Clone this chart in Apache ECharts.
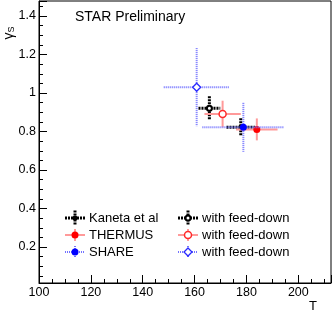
<!DOCTYPE html>
<html><head><meta charset="utf-8">
<script src="https://cdn.jsdelivr.net/npm/echarts@6/dist/echarts.min.js"></script>
<style>html,body{margin:0;padding:0;background:#fff}#c{width:333px;height:316px}</style>
</head><body><div id="c"></div><script>
// ---- data ----
const seriesNames = ['Kaneta et al', 'THERMUS', 'SHARE', 'with feed-down', 'with feed-down', 'with feed-down'];
const temperature = [177.8, 184.0, 178.8, 165.7, 170.8, 160.8];
const gammaS = [0.822, 0.811, 0.822, 0.921, 0.891, 1.030];
const temperatureErr = [5.5, 8.0, 15.8, 4.2, 7.0, 12.7];
const gammaSErr = [0.047, 0.057, 0.127, 0.062, 0.069, 0.203];
const xTickValues = [100, 120, 140, 160, 180, 200];
const yTickValues = [0.2, 0.4, 0.6, 0.8, 1, 1.2, 1.4];

// ---- styles ----
const FONT = 'Liberation Sans, Arial, Helvetica, sans-serif';
const lineStyles = {
  black: { stroke: '#000', lineWidth: 3, lineDash: [2, 1] },
  red: { stroke: '#ff9a9a', lineWidth: 2 },
  blue: { stroke: '#7373ff', lineWidth: 2, lineDash: [1, 1] }
};
const seriesStyle = [
  { line: 'black', marker: 'dot', color: '#000', r: 2.5 },
  { line: 'red', marker: 'dot', color: '#ff0000', r: 3.5 },
  { line: 'blue', marker: 'dot', color: '#0000ff', r: 3.5 },
  { line: 'black', marker: 'ring', color: '#000', r: 2.5, lw: 2 },
  { line: 'red', marker: 'ring', color: '#ff2a2a', r: 3.5, lw: 1.5 },
  { line: 'blue', marker: 'diamond', color: '#2a2aff', r: 4, lw: 1.3 }
];
const drawOrder = [3, 4, 5, 0, 1, 2];

function markerEl(st, cx, cy) {
  if (st.marker === 'dot') {
    return { type: 'circle', shape: { cx: cx, cy: cy, r: st.r }, style: { fill: st.color } };
  }
  if (st.marker === 'ring') {
    return { type: 'circle', shape: { cx: cx, cy: cy, r: st.r }, style: { fill: '#fff', stroke: st.color, lineWidth: st.lw } };
  }
  return { type: 'polygon', shape: { points: [[cx, cy - st.r], [cx + st.r, cy], [cx, cy + st.r], [cx - st.r, cy]] },
    style: { fill: '#fff', stroke: st.color, lineWidth: st.lw } };
}
function crossEls(st, cx, cy, xl, xr, yt, yb) {
  const ls = lineStyles[st.line];
  return [
    { type: 'line', shape: { x1: xl, y1: cy, x2: xr, y2: cy }, style: Object.assign({}, ls) },
    { type: 'line', shape: { x1: cx, y1: yt, x2: cx, y2: yb }, style: Object.assign({}, ls) },
    markerEl(st, cx, cy)
  ];
}

const series = drawOrder.map(function (i) {
  const st = seriesStyle[i];
  return {
    type: 'custom',
    name: seriesNames[i],
    coordinateSystem: 'cartesian2d',
    encode: { x: 0, y: 1 },
    data: [[temperature[i], gammaS[i], temperatureErr[i], gammaSErr[i]]],
    renderItem: function (params, api) {
      const x = api.value(0), y = api.value(1), ex = api.value(2), ey = api.value(3);
      const c = api.coord([x, y]);
      const l = api.coord([x - ex, y]), r = api.coord([x + ex, y]);
      const t = api.coord([x, y + ey]), b = api.coord([x, y - ey]);
      return { type: 'group', children: crossEls(st, c[0], c[1], l[0], r[0], t[1], b[1]) };
    }
  };
});

// legend (drawn as graphics)
const legendPos = [
  { i: 0, x: 75, y: 218, v: 7.5 }, { i: 1, x: 75, y: 235, v: 6 }, { i: 2, x: 75, y: 252, v: 6 },
  { i: 3, x: 188, y: 218, v: 7.5 }, { i: 4, x: 188, y: 235, v: 6 }, { i: 5, x: 188, y: 252, v: 6 }
];
const graphics = [];
legendPos.forEach(function (p) {
  const st = seriesStyle[p.i];
  graphics.push({ type: 'group', children: crossEls(st, p.x, p.y, p.x - 10, p.x + 10, p.y - p.v, p.y + p.v) });
  graphics.push({ type: 'text', x: p.x + 14, y: p.y, style: { text: seriesNames[p.i], fontSize: 13, fontFamily: FONT, fill: '#000', verticalAlign: 'middle', align: 'left' } });
});
graphics.push({ type: 'text', x: 75, y: 17, style: { text: 'STAR Preliminary', fontSize: 14, fontFamily: FONT, fill: '#000', verticalAlign: 'middle' } });
graphics.push({ type: 'text', x: 313, y: 306, style: { text: 'T', fontSize: 13, fontFamily: FONT, fill: '#000', align: 'center', verticalAlign: 'middle' } });
graphics.push({ type: 'text', x: 9, y: 33, rotation: Math.PI / 2,
  style: { text: '{g|γ}{s|S}', fontFamily: FONT, fill: '#000', align: 'center', verticalAlign: 'middle',
    rich: { g: { fontSize: 14, fontFamily: FONT }, s: { fontSize: 9, fontFamily: FONT, verticalAlign: 'bottom', padding: [5, 0, 0, 0] } } } });

const axisCommon = {
  type: 'value',
  axisLine: { show: true, onZero: false, lineStyle: { color: '#000', width: 1 } },
  axisTick: { show: true, inside: true, length: 8, lineStyle: { color: '#000' } },
  minorTick: { show: true, splitNumber: 4, length: 4, lineStyle: { color: '#000' } },
  splitLine: { show: false },
  minorSplitLine: { show: false }
};

const option = {
  animation: false,
  backgroundColor: '#fff',
  grid: { left: 39, right: 2, top: 1, bottom: 33, show: true, borderColor: '#000', borderWidth: 1, backgroundColor: 'transparent' },
  xAxis: Object.assign({}, axisCommon, {
    min: 100, max: 212.6, interval: 20,
    axisLabel: { color: '#000', fontSize: 12.5, fontFamily: FONT, margin: 3, showMaxLabel: false,
      formatter: function (v) { return xTickValues.indexOf(v) >= 0 ? String(v) : ''; } }
  }),
  yAxis: Object.assign({}, axisCommon, {
    min: 0.013, max: 1.478, splitNumber: 7,
    axisLabel: { color: '#000', fontSize: 12.5, fontFamily: FONT, margin: 3, showMinLabel: false, showMaxLabel: false,
      formatter: function (v) {
        for (let k = 0; k < yTickValues.length; k++) { if (Math.abs(v - yTickValues[k]) < 1e-6) return String(yTickValues[k]); }
        return '';
      } }
  }),
  graphic: graphics,
  series: series
};
const chart = echarts.init(document.getElementById('c'), null, { renderer: 'canvas' });
chart.setOption(option);
</script></body></html>
